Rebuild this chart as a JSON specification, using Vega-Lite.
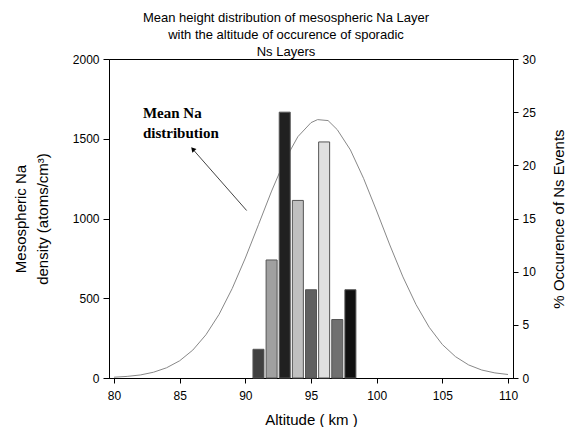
{
  "$schema": "https://vega.github.io/schema/vega-lite/v6.json",
  "width": 404,
  "height": 319,
  "autosize": {"type": "none"},
  "padding": {"left": 109, "top": 59, "right": 55, "bottom": 49},
  "background": "white",
  "config": {
    "view": {"stroke": "black", "strokeWidth": 1},
    "font": "Liberation Sans",
    "axis": {
      "domainColor": "black",
      "tickColor": "black",
      "labelColor": "black",
      "titleColor": "black",
      "labelFont": "Liberation Sans",
      "titleFont": "Liberation Sans",
      "labelFontSize": 12,
      "titleFontSize": 15,
      "titleFontWeight": "normal",
      "grid": false
    }
  },
  "title": {
    "text": ["Mean height distribution of mesospheric Na Layer", "with the altitude of occurence of sporadic", "Ns Layers"],
    "font": "Liberation Sans",
    "fontSize": 13,
    "fontWeight": "normal",
    "color": "black",
    "lineHeight": 17,
    "anchor": "middle",
    "dx": -25,
    "offset": -6
  },
  "datasets": {
    "curve": [
      {"altitude": 80, "density": 5}, {"altitude": 81, "density": 10}, {"altitude": 82, "density": 19},
      {"altitude": 83, "density": 36}, {"altitude": 84, "density": 64}, {"altitude": 85, "density": 108},
      {"altitude": 86, "density": 175}, {"altitude": 87, "density": 271}, {"altitude": 88, "density": 399},
      {"altitude": 89, "density": 561}, {"altitude": 90, "density": 752}, {"altitude": 91, "density": 961},
      {"altitude": 92, "density": 1172}, {"altitude": 93, "density": 1364}, {"altitude": 94, "density": 1513},
      {"altitude": 95, "density": 1601}, {"altitude": 95.5, "density": 1620}, {"altitude": 96.3, "density": 1614},
      {"altitude": 97, "density": 1557}, {"altitude": 98, "density": 1430}, {"altitude": 99, "density": 1252},
      {"altitude": 100, "density": 1047}, {"altitude": 101, "density": 834}, {"altitude": 102, "density": 634},
      {"altitude": 103, "density": 460}, {"altitude": 104, "density": 318}, {"altitude": 105, "density": 210},
      {"altitude": 106, "density": 134}, {"altitude": 107, "density": 82}, {"altitude": 108, "density": 50},
      {"altitude": 109, "density": 32}, {"altitude": 110, "density": 22}
    ],
    "bars": [
      {"altitude": 91, "occurrence": 2.7},
      {"altitude": 92, "occurrence": 11.1},
      {"altitude": 93, "occurrence": 25.0},
      {"altitude": 94, "occurrence": 16.7},
      {"altitude": 95, "occurrence": 8.3},
      {"altitude": 96, "occurrence": 22.2},
      {"altitude": 97, "occurrence": 5.5},
      {"altitude": 98, "occurrence": 8.3}
    ],
    "note": [{"altitude": 82.2, "density": 1663, "label": "Mean Na\ndistribution"}],
    "arrow": [{"altitude": 90.1, "density": 1050, "altitude2": 86.1, "density2": 1425}],
    "head": [{"altitude": 86.0, "density": 1435}]
  },
  "layer": [
    {
      "layer": [
        {
          "data": {"name": "curve"},
          "mark": {"type": "line", "color": "#888888", "strokeWidth": 1},
          "encoding": {
            "x": {
              "field": "altitude", "type": "quantitative",
              "scale": {"domain": [80, 110], "nice": false, "zero": false},
              "axis": {
                "title": "Altitude ( km )",
                "values": [80, 82.5, 85, 87.5, 90, 92.5, 95, 97.5, 100, 102.5, 105, 107.5, 110],
                "labelExpr": "datum.value % 5 === 0 ? datum.label : ''",
                "tickSize": {"condition": {"test": "datum.value % 5 === 0", "value": 5}, "value": 3},
                "labelPadding": 7,
                "titlePadding": 11,
                "labelFlush": false
              }
            },
            "y": {
              "field": "density", "type": "quantitative",
              "scale": {"domain": [0, 2000], "nice": false},
              "axis": {
                "title": ["Mesospheric Na", "density (atoms/cm³)"],
                "titleLineHeight": 22,
                "values": [0, 250, 500, 750, 1000, 1250, 1500, 1750, 2000],
                "labelExpr": "datum.value % 500 === 0 ? datum.label : ''",
                "tickSize": {"condition": {"test": "datum.value % 500 === 0", "value": 6}, "value": 3},
                "format": "d",
                "labelPadding": 4,
                "titlePadding": 22
              }
            }
          }
        },
        {
          "data": {"name": "arrow"},
          "mark": {"type": "rule", "color": "#444444", "strokeWidth": 1},
          "encoding": {
            "x": {"field": "altitude", "type": "quantitative"},
            "y": {"field": "density", "type": "quantitative"},
            "x2": {"field": "altitude2"},
            "y2": {"field": "density2"}
          }
        },
        {
          "data": {"name": "head"},
          "mark": {"type": "point", "shape": "triangle-up", "filled": true, "color": "black", "size": 30, "angle": 318, "opacity": 1},
          "encoding": {
            "x": {"field": "altitude", "type": "quantitative"},
            "y": {"field": "density", "type": "quantitative"}
          }
        },
        {
          "data": {"name": "note"},
          "mark": {"type": "text", "font": "Liberation Serif", "fontWeight": "bold", "fontSize": 15, "align": "left", "baseline": "middle", "lineBreak": "\n", "lineHeight": 20, "color": "black"},
          "encoding": {
            "x": {"field": "altitude", "type": "quantitative"},
            "y": {"field": "density", "type": "quantitative"},
            "text": {"field": "label"}
          }
        }
      ]
    },
    {
      "data": {"name": "bars"},
      "mark": {"type": "bar", "size": 11, "stroke": "#555555", "strokeWidth": 1},
      "encoding": {
        "x": {"field": "altitude", "type": "quantitative"},
        "y": {
          "field": "occurrence", "type": "quantitative",
          "scale": {"domain": [0, 30], "nice": false},
          "axis": {
            "orient": "right",
            "title": "% Occurence of Ns Events",
            "titleAngle": -90,
            "values": [0, 5, 10, 15, 20, 25, 30],
            "tickSize": 5,
            "labelPadding": 4,
            "titlePadding": 31
          }
        },
        "color": {
          "field": "altitude", "type": "ordinal",
          "scale": {"domain": [91, 92, 93, 94, 95, 96, 97, 98], "range": ["#404040", "#a0a0a0", "#202020", "#c0c0c0", "#606060", "#e0e0e0", "#707070", "#101010"]},
          "legend": null
        }
      }
    }
  ],
  "resolve": {"scale": {"y": "independent"}}
}
